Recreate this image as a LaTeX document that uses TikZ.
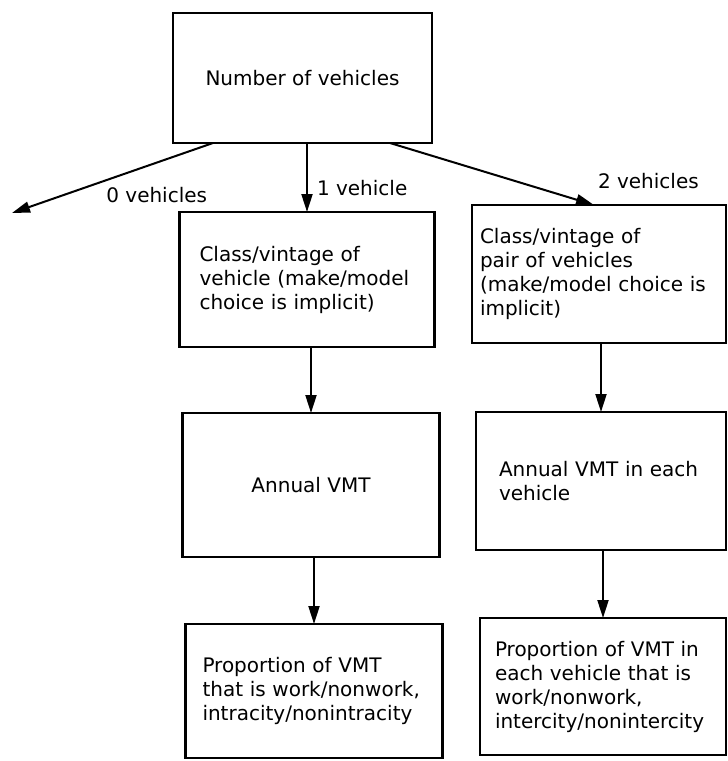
\documentclass[tikz,border=0pt]{standalone}
\usepackage{fontspec}
\setmainfont{DejaVu Sans}
\usepackage{tikz}
\usetikzlibrary{arrows.meta, positioning}

\begin{document}
\begin{tikzpicture}[
    x=1pt, y=-1pt,
    font=\fontsize{20}{24}\selectfont,
    cbox/.style={rectangle, draw=black, line width=2.2pt,
                 minimum width=257pt, minimum height=136pt,
                 align=center, inner sep=0pt, outer sep=0pt},
    tbox/.style={rectangle, draw=black, line width=2.2pt,
                 minimum height=136pt, outer sep=0pt,
                 align=left, inner xsep=18pt, inner ysep=0pt},
    arr/.style={-{Triangle[length=18pt, width=11pt]}, line width=2pt},
    lab/.style={inner sep=0pt},
  ]
    \useasboundingbox (0,0) rectangle (728,761);

    \node[cbox, minimum width=259pt, minimum height=130pt] (count) at (302.5,78) {Number of vehicles};
    \coordinate (nocar) at (12,213);

    % one vehicle
    \node[tbox, text width=215pt, inner xsep=20pt, minimum height=135pt,
          below=69pt of count, xshift=4.5pt] (cls1) {Class/vintage of\\vehicle (make/model\\choice is implicit)};
    \node[cbox, minimum height=144pt, below=66pt of cls1, xshift=4pt] (vmt1) {Annual VMT};
    \node[tbox, text width=223pt, inner xsep=17pt, minimum height=134pt,
          below=67pt of vmt1, xshift=3pt] (prop1) {Proportion of VMT\\that is work/nonwork,\\intracity/nonintracity};

    % two vehicles
    \node[tbox, text width=238pt, inner xsep=8pt, minimum height=138pt,
          right=37.5pt of cls1, yshift=5.5pt] (cls2) {Class/vintage of\\pair of vehicles\\(make/model choice is\\implicit)};
    \node[tbox, text width=204pt, inner xsep=23pt, minimum height=138pt,
          below=69pt of cls2, xshift=2pt] (vmt2) {Annual VMT in each\\vehicle};
    \node[tbox, text width=216pt, inner xsep=15pt, minimum height=137pt,
          below=68pt of vmt2, xshift=2pt] (prop2) {Proportion of VMT in\\each vehicle that is\\work/nonwork,\\intercity/nonintercity};

    \draw[arr] ([xshift=-89.5pt]count.south) -- (nocar)
        node[lab, pos=0.28, below=24pt] {0 vehicles};
    \draw[arr] (count.south -| cls1.north) -- (cls1.north)
        node[lab, pos=0.65, right=9pt] {1 vehicle};
    \draw[arr] ([xshift=87.5pt]count.south) -- ([xshift=-5pt]cls2.north)
        node[lab, pos=1, anchor=south west, xshift=3pt, yshift=15pt] {2 vehicles};

    \draw[arr] (vmt1.north |- cls1.south) -- (vmt1.north);
    \draw[arr] (prop1.north |- vmt1.south) -- (prop1.north);
    \draw[arr] (vmt2.north |- cls2.south) -- (vmt2.north);
    \draw[arr] (prop2.north |- vmt2.south) -- (prop2.north);
  \end{tikzpicture}
\end{document}
